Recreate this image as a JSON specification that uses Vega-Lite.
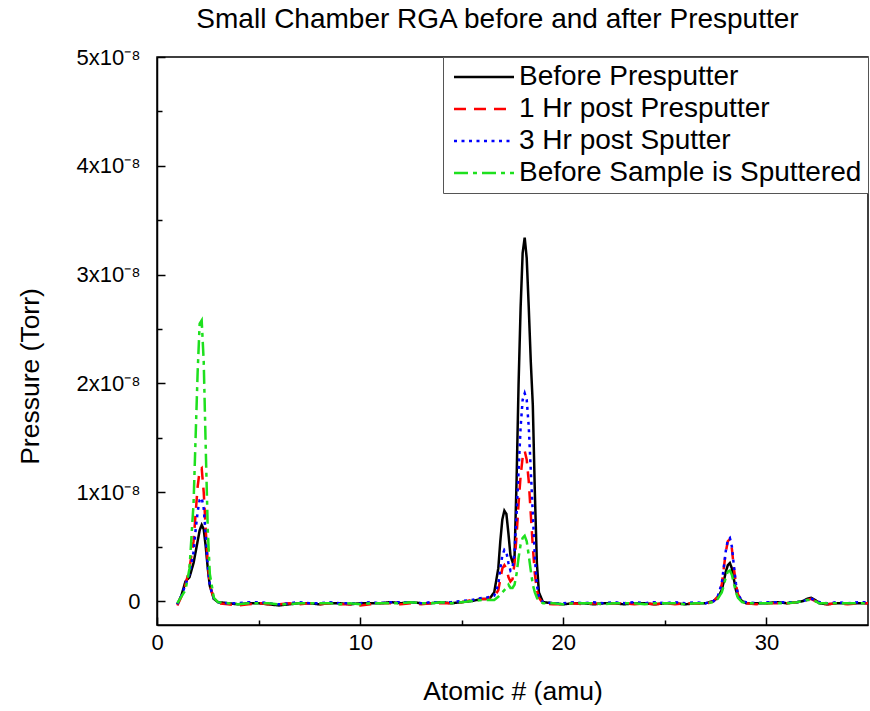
{
  "$schema": "https://vega.github.io/schema/vega-lite/v6.json",
  "width": 711,
  "height": 568,
  "autosize": {"type": "none"},
  "padding": {"left": 157, "top": 57, "right": 2, "bottom": 86},
  "background": "white",
  "title": {"text": "Small Chamber RGA before and after Presputter", "font": "Liberation Sans", "fontSize": 28, "fontWeight": "normal", "color": "#000", "anchor": "middle", "dx": -15, "offset": 12},
  "config": {
    "font": "Liberation Sans",
    "view": {"stroke": "#000", "strokeWidth": 1.5}
  },
  "data": {"values": [
    {"x":1.0,"a":-0.03e-8,"b":-0.04e-8,"c":-0.03e-8,"d":-0.02e-8},
    {"x":1.2,"a":0.05e-8,"b":0.04e-8,"c":0.05e-8,"d":0.04e-8},
    {"x":1.4,"a":0.18e-8,"b":0.15e-8,"c":0.15e-8,"d":0.10e-8},
    {"x":1.6,"a":0.22e-8,"b":0.30e-8,"c":0.25e-8,"d":0.30e-8},
    {"x":1.8,"a":0.35e-8,"b":0.55e-8,"c":0.45e-8,"d":0.90e-8},
    {"x":1.9,"a":0.45e-8,"b":0.80e-8,"c":0.65e-8,"d":1.50e-8},
    {"x":2.0,"a":0.55e-8,"b":1.05e-8,"c":0.82e-8,"d":2.10e-8},
    {"x":2.1,"a":0.65e-8,"b":1.20e-8,"c":0.93e-8,"d":2.55e-8},
    {"x":2.2,"a":0.70e-8,"b":1.22e-8,"c":0.95e-8,"d":2.58e-8},
    {"x":2.3,"a":0.66e-8,"b":1.00e-8,"c":0.85e-8,"d":2.20e-8},
    {"x":2.4,"a":0.50e-8,"b":0.65e-8,"c":0.60e-8,"d":1.40e-8},
    {"x":2.5,"a":0.30e-8,"b":0.35e-8,"c":0.33e-8,"d":0.65e-8},
    {"x":2.6,"a":0.14e-8,"b":0.15e-8,"c":0.14e-8,"d":0.25e-8},
    {"x":2.8,"a":0.02e-8,"b":0.02e-8,"c":0.02e-8,"d":0.03e-8},
    {"x":3.0,"a":-0.01e-8,"b":-0.02e-8,"c":-0.01e-8,"d":-0.01e-8},
    {"x":3.5,"a":-0.02e-8,"b":-0.03e-8,"c":-0.02e-8,"d":-0.02e-8},
    {"x":4.0,"a":-0.03e-8,"b":-0.04e-8,"c":-0.02e-8,"d":-0.03e-8},
    {"x":4.5,"a":-0.02e-8,"b":-0.03e-8,"c":-0.01e-8,"d":-0.02e-8},
    {"x":5.0,"a":-0.02e-8,"b":-0.02e-8,"c":-0.01e-8,"d":-0.02e-8},
    {"x":5.5,"a":-0.03e-8,"b":-0.03e-8,"c":-0.02e-8,"d":-0.02e-8},
    {"x":6.0,"a":-0.04e-8,"b":-0.03e-8,"c":-0.03e-8,"d":-0.03e-8},
    {"x":6.5,"a":-0.03e-8,"b":-0.02e-8,"c":-0.02e-8,"d":-0.03e-8},
    {"x":7.0,"a":-0.02e-8,"b":-0.03e-8,"c":-0.01e-8,"d":-0.02e-8},
    {"x":7.5,"a":-0.02e-8,"b":-0.02e-8,"c":-0.02e-8,"d":-0.02e-8},
    {"x":8.0,"a":-0.03e-8,"b":-0.03e-8,"c":-0.02e-8,"d":-0.02e-8},
    {"x":8.5,"a":-0.02e-8,"b":-0.02e-8,"c":-0.01e-8,"d":-0.02e-8},
    {"x":9.0,"a":-0.02e-8,"b":-0.03e-8,"c":-0.02e-8,"d":-0.03e-8},
    {"x":9.5,"a":-0.03e-8,"b":-0.03e-8,"c":-0.02e-8,"d":-0.02e-8},
    {"x":10.0,"a":-0.02e-8,"b":-0.04e-8,"c":-0.02e-8,"d":-0.03e-8},
    {"x":10.5,"a":-0.02e-8,"b":-0.03e-8,"c":-0.01e-8,"d":-0.02e-8},
    {"x":11.0,"a":-0.02e-8,"b":-0.02e-8,"c":-0.02e-8,"d":-0.02e-8},
    {"x":11.5,"a":-0.01e-8,"b":-0.02e-8,"c":-0.01e-8,"d":-0.02e-8},
    {"x":12.0,"a":-0.02e-8,"b":-0.03e-8,"c":-0.01e-8,"d":-0.02e-8},
    {"x":12.5,"a":-0.01e-8,"b":-0.02e-8,"c":-0.01e-8,"d":-0.01e-8},
    {"x":13.0,"a":-0.02e-8,"b":-0.03e-8,"c":-0.02e-8,"d":-0.02e-8},
    {"x":13.5,"a":-0.02e-8,"b":-0.02e-8,"c":-0.01e-8,"d":-0.02e-8},
    {"x":14.0,"a":-0.01e-8,"b":-0.02e-8,"c":-0.01e-8,"d":-0.01e-8},
    {"x":14.5,"a":-0.02e-8,"b":-0.02e-8,"c":-0.01e-8,"d":-0.02e-8},
    {"x":15.0,"a":-0.01e-8,"b":-0.01e-8,"c":0.00e-8,"d":-0.01e-8},
    {"x":15.5,"a":0.00e-8,"b":0.01e-8,"c":0.01e-8,"d":0.00e-8},
    {"x":16.0,"a":0.02e-8,"b":0.02e-8,"c":0.03e-8,"d":0.01e-8},
    {"x":16.2,"a":0.02e-8,"b":0.02e-8,"c":0.03e-8,"d":0.01e-8},
    {"x":16.4,"a":0.03e-8,"b":0.03e-8,"c":0.04e-8,"d":0.01e-8},
    {"x":16.6,"a":0.08e-8,"b":0.04e-8,"c":0.05e-8,"d":0.01e-8},
    {"x":16.8,"a":0.30e-8,"b":0.10e-8,"c":0.15e-8,"d":0.04e-8},
    {"x":16.9,"a":0.55e-8,"b":0.20e-8,"c":0.30e-8,"d":0.06e-8},
    {"x":17.0,"a":0.75e-8,"b":0.30e-8,"c":0.42e-8,"d":0.08e-8},
    {"x":17.1,"a":0.83e-8,"b":0.33e-8,"c":0.47e-8,"d":0.10e-8},
    {"x":17.2,"a":0.80e-8,"b":0.30e-8,"c":0.45e-8,"d":0.12e-8},
    {"x":17.3,"a":0.62e-8,"b":0.22e-8,"c":0.35e-8,"d":0.15e-8},
    {"x":17.4,"a":0.42e-8,"b":0.18e-8,"c":0.28e-8,"d":0.12e-8},
    {"x":17.5,"a":0.36e-8,"b":0.20e-8,"c":0.30e-8,"d":0.12e-8},
    {"x":17.6,"a":0.40e-8,"b":0.35e-8,"c":0.45e-8,"d":0.15e-8},
    {"x":17.7,"a":1.10e-8,"b":0.60e-8,"c":0.80e-8,"d":0.25e-8},
    {"x":17.8,"a":2.00e-8,"b":0.90e-8,"c":1.20e-8,"d":0.40e-8},
    {"x":17.9,"a":2.70e-8,"b":1.15e-8,"c":1.60e-8,"d":0.52e-8},
    {"x":18.0,"a":3.20e-8,"b":1.32e-8,"c":1.85e-8,"d":0.58e-8},
    {"x":18.1,"a":3.34e-8,"b":1.38e-8,"c":1.91e-8,"d":0.60e-8},
    {"x":18.2,"a":3.15e-8,"b":1.30e-8,"c":1.85e-8,"d":0.55e-8},
    {"x":18.3,"a":2.70e-8,"b":1.10e-8,"c":1.60e-8,"d":0.42e-8},
    {"x":18.4,"a":2.20e-8,"b":0.80e-8,"c":1.20e-8,"d":0.28e-8},
    {"x":18.5,"a":1.80e-8,"b":0.50e-8,"c":0.80e-8,"d":0.15e-8},
    {"x":18.6,"a":1.00e-8,"b":0.25e-8,"c":0.40e-8,"d":0.08e-8},
    {"x":18.7,"a":0.35e-8,"b":0.10e-8,"c":0.15e-8,"d":0.03e-8},
    {"x":18.8,"a":0.08e-8,"b":0.03e-8,"c":0.04e-8,"d":0.00e-8},
    {"x":19.0,"a":-0.01e-8,"b":-0.02e-8,"c":-0.01e-8,"d":-0.02e-8},
    {"x":19.5,"a":-0.02e-8,"b":-0.03e-8,"c":-0.02e-8,"d":-0.02e-8},
    {"x":20.0,"a":-0.03e-8,"b":-0.03e-8,"c":-0.02e-8,"d":-0.03e-8},
    {"x":20.5,"a":-0.02e-8,"b":-0.02e-8,"c":-0.01e-8,"d":-0.02e-8},
    {"x":21.0,"a":-0.02e-8,"b":-0.03e-8,"c":-0.02e-8,"d":-0.02e-8},
    {"x":21.5,"a":-0.03e-8,"b":-0.02e-8,"c":-0.01e-8,"d":-0.02e-8},
    {"x":22.0,"a":-0.02e-8,"b":-0.03e-8,"c":-0.02e-8,"d":-0.03e-8},
    {"x":22.5,"a":-0.02e-8,"b":-0.02e-8,"c":-0.01e-8,"d":-0.02e-8},
    {"x":23.0,"a":-0.03e-8,"b":-0.02e-8,"c":-0.02e-8,"d":-0.02e-8},
    {"x":23.5,"a":-0.02e-8,"b":-0.03e-8,"c":-0.01e-8,"d":-0.02e-8},
    {"x":24.0,"a":-0.02e-8,"b":-0.02e-8,"c":-0.02e-8,"d":-0.03e-8},
    {"x":24.5,"a":-0.03e-8,"b":-0.03e-8,"c":-0.01e-8,"d":-0.02e-8},
    {"x":25.0,"a":-0.02e-8,"b":-0.02e-8,"c":-0.02e-8,"d":-0.02e-8},
    {"x":25.5,"a":-0.02e-8,"b":-0.03e-8,"c":-0.01e-8,"d":-0.02e-8},
    {"x":26.0,"a":-0.03e-8,"b":-0.02e-8,"c":-0.02e-8,"d":-0.03e-8},
    {"x":26.5,"a":-0.02e-8,"b":-0.02e-8,"c":-0.01e-8,"d":-0.02e-8},
    {"x":27.0,"a":-0.02e-8,"b":-0.03e-8,"c":-0.02e-8,"d":-0.02e-8},
    {"x":27.4,"a":0.00e-8,"b":0.00e-8,"c":0.00e-8,"d":-0.01e-8},
    {"x":27.6,"a":0.03e-8,"b":0.04e-8,"c":0.04e-8,"d":0.02e-8},
    {"x":27.8,"a":0.10e-8,"b":0.15e-8,"c":0.16e-8,"d":0.08e-8},
    {"x":27.9,"a":0.18e-8,"b":0.30e-8,"c":0.31e-8,"d":0.14e-8},
    {"x":28.0,"a":0.27e-8,"b":0.45e-8,"c":0.46e-8,"d":0.22e-8},
    {"x":28.1,"a":0.33e-8,"b":0.55e-8,"c":0.56e-8,"d":0.27e-8},
    {"x":28.2,"a":0.35e-8,"b":0.57e-8,"c":0.58e-8,"d":0.28e-8},
    {"x":28.3,"a":0.30e-8,"b":0.48e-8,"c":0.50e-8,"d":0.24e-8},
    {"x":28.4,"a":0.20e-8,"b":0.30e-8,"c":0.32e-8,"d":0.16e-8},
    {"x":28.5,"a":0.10e-8,"b":0.15e-8,"c":0.16e-8,"d":0.08e-8},
    {"x":28.6,"a":0.04e-8,"b":0.06e-8,"c":0.06e-8,"d":0.03e-8},
    {"x":28.8,"a":0.00e-8,"b":0.00e-8,"c":0.00e-8,"d":-0.01e-8},
    {"x":29.0,"a":-0.02e-8,"b":-0.02e-8,"c":-0.01e-8,"d":-0.02e-8},
    {"x":29.5,"a":-0.02e-8,"b":-0.03e-8,"c":-0.02e-8,"d":-0.02e-8},
    {"x":30.0,"a":-0.02e-8,"b":-0.02e-8,"c":-0.01e-8,"d":-0.02e-8},
    {"x":30.5,"a":-0.01e-8,"b":-0.02e-8,"c":-0.01e-8,"d":-0.02e-8},
    {"x":31.0,"a":-0.02e-8,"b":-0.02e-8,"c":-0.01e-8,"d":-0.02e-8},
    {"x":31.5,"a":-0.01e-8,"b":-0.01e-8,"c":-0.01e-8,"d":-0.01e-8},
    {"x":31.8,"a":0.00e-8,"b":0.00e-8,"c":0.00e-8,"d":0.00e-8},
    {"x":32.0,"a":0.02e-8,"b":0.01e-8,"c":0.01e-8,"d":0.01e-8},
    {"x":32.2,"a":0.03e-8,"b":0.02e-8,"c":0.02e-8,"d":0.01e-8},
    {"x":32.4,"a":0.01e-8,"b":0.00e-8,"c":0.01e-8,"d":0.00e-8},
    {"x":32.6,"a":-0.02e-8,"b":-0.02e-8,"c":-0.01e-8,"d":-0.02e-8},
    {"x":33.0,"a":-0.03e-8,"b":-0.03e-8,"c":-0.02e-8,"d":-0.02e-8},
    {"x":33.5,"a":-0.02e-8,"b":-0.02e-8,"c":-0.01e-8,"d":-0.02e-8},
    {"x":34.0,"a":-0.02e-8,"b":-0.03e-8,"c":-0.02e-8,"d":-0.02e-8},
    {"x":34.5,"a":-0.02e-8,"b":-0.02e-8,"c":-0.01e-8,"d":-0.02e-8},
    {"x":35.0,"a":-0.02e-8,"b":-0.02e-8,"c":-0.01e-8,"d":-0.02e-8}
  ]},
  "transform": [{"fold": ["a", "b", "c", "d"], "as": ["series", "p"]}],
  "mark": {"type": "line", "strokeWidth": 2.5, "clip": true},
  "encoding": {
    "x": {
      "field": "x", "type": "quantitative",
      "scale": {"domain": [0, 35], "nice": false, "zero": false},
      "axis": {
        "title": "Atomic # (amu)", "titleFont": "Liberation Sans", "titleFontSize": 26.5, "titleFontWeight": "normal", "titleColor": "#000", "titlePadding": 25,
        "values": [0, 5, 10, 15, 20, 25, 30],
        "labelExpr": "datum.value % 10 === 0 ? datum.label : ''",
        "labelFont": "Liberation Sans", "labelFontSize": 22, "labelColor": "#000", "labelPadding": 15,
        "labelFlush": false,
        "grid": false, "domainColor": "#000", "domainWidth": 1.5,
        "tickColor": "#000", "tickWidth": 1.5,
        "tickSize": {"condition": {"test": "datum.value % 10 === 0", "value": -8}, "value": -5}
      }
    },
    "y": {
      "field": "p", "type": "quantitative",
      "scale": {"domain": [-0.22e-8, 5e-8], "nice": false, "zero": false},
      "axis": {
        "title": "Pressure (Torr)", "titleFont": "Liberation Sans", "titleFontSize": 26.5, "titleFontWeight": "normal", "titleColor": "#000", "titlePadding": 32, "titleY": 319,
        "values": [0, 0.5e-8, 1e-8, 1.5e-8, 2e-8, 2.5e-8, 3e-8, 3.5e-8, 4e-8, 4.5e-8, 5e-8],
        "labelExpr": "abs(datum.value*1e8 - round(datum.value*1e8)) > 0.01 ? '' : (datum.value == 0 ? '0' : round(datum.value*1e8) + 'x10⁻⁸')",
        "labelFont": "Liberation Sans", "labelFontSize": 22, "labelColor": "#000", "labelPadding": 25,
        "labelFlush": false,
        "grid": false, "domainColor": "#000", "domainWidth": 1.5,
        "tickColor": "#000", "tickWidth": 1.5,
        "tickSize": {"condition": {"test": "abs(datum.value*1e8 - round(datum.value*1e8)) < 0.01", "value": -8}, "value": -5}
      }
    },
    "color": {
      "field": "series", "type": "nominal",
      "scale": {"domain": ["a", "b", "c", "d"], "range": ["#000000", "#ff0000", "#0000ff", "#1ee01e"]},
      "legend": {
        "title": null, "orient": "top-right", "offset": 0,
        "labelExpr": "datum.label == 'a' ? 'Before Presputter' : datum.label == 'b' ? '1 Hr post Presputter' : datum.label == 'c' ? '3 Hr post Sputter' : 'Before Sample is Sputtered'",
        "labelFont": "Liberation Sans", "labelFontSize": 28, "labelColor": "#000", "labelOffset": 21, "labelLimit": 0,
        "symbolType": "M-2.4,0H2.4", "symbolSize": 625, "symbolStrokeWidth": 2.5, "symbolOffset": 21,
        "strokeColor": "#555", "fillColor": "white", "padding": 6, "rowPadding": 4
      }
    },
    "strokeDash": {
      "field": "series", "type": "nominal",
      "scale": {"domain": ["a", "b", "c", "d"], "range": [[1, 0], [12, 8], [3, 4.5], [14, 5, 4, 5]]},
      "legend": null
    }
  }
}
